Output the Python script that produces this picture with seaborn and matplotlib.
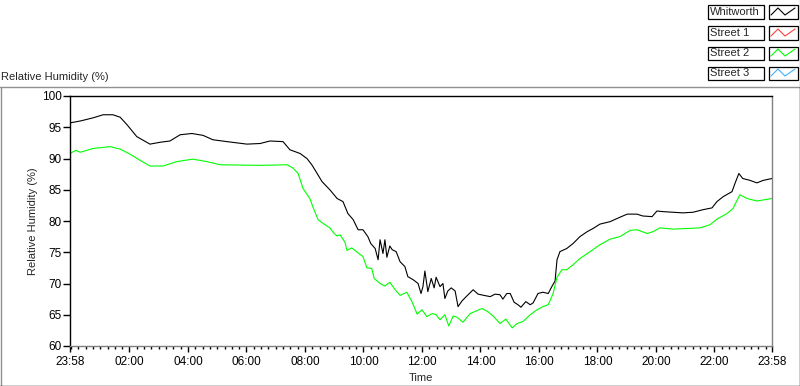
"""
Relative humidity over one day: Whitworth vs Street 2 (LabVIEW style chart)
"""

import numpy as np
import pandas as pd
import matplotlib
matplotlib.use('Agg')
import matplotlib.pyplot as plt
from matplotlib.lines import Line2D
from matplotlib.patches import Rectangle
from matplotlib.ticker import FixedLocator
import seaborn as sns

# minutes elapsed since 23:58 and relative humidity (%)
whitworth_min = [0, 21, 47, 68, 88, 103, 117, 137, 164, 185, 205, 226, 250, 273, 293, 322, 363,
                 390, 410, 437, 451, 472, 486, 496, 507, 517, 533, 548, 560, 570, 581, 591, 601,
                 611, 617, 626, 632, 636, 642, 646, 650, 656, 661, 669, 677, 687, 693, 704, 714,
                 720, 724, 728, 734, 741, 747, 751, 759, 765, 769, 775, 782, 790, 796, 804, 814,
                 827, 837, 849, 862, 872, 882, 888, 896, 903, 911, 919, 925, 935, 944, 950, 960,
                 970, 981, 989, 995, 999, 1005, 1019, 1032, 1046, 1061, 1073, 1087, 1108, 1128,
                 1143, 1163, 1175, 1194, 1204, 1216, 1237, 1257, 1278, 1298, 1317, 1327, 1340,
                 1358, 1364, 1372, 1380, 1395, 1409, 1422, 1440]
whitworth_rh = [95.7, 96.0, 96.5, 97.0, 97.0, 96.6, 95.4, 93.5, 92.3, 92.6, 92.8, 93.8, 94.0,
                93.7, 93.0, 92.7, 92.3, 92.4, 92.8, 92.7, 91.4, 90.8, 90.0, 89.0, 87.6, 86.3,
                85.0, 83.6, 83.1, 81.2, 80.2, 78.6, 78.6, 77.5, 76.4, 75.6, 73.8, 77.0, 74.8,
                77.0, 74.2, 76.0, 75.4, 75.1, 73.5, 72.7, 71.1, 70.6, 70.0, 68.4, 69.5, 72.0,
                68.7, 70.8, 69.3, 71.0, 69.5, 70.0, 67.6, 68.8, 69.3, 68.8, 66.3, 67.2, 68.0,
                69.0, 68.3, 68.1, 67.9, 68.3, 68.2, 67.5, 68.4, 68.4, 67.0, 66.6, 66.2, 67.1,
                66.6, 66.9, 68.4, 68.6, 68.4, 69.6, 70.4, 73.8, 75.1, 75.6, 76.4, 77.5, 78.3,
                78.8, 79.5, 79.9, 80.6, 81.1, 81.1, 80.8, 80.7, 81.6, 81.5, 81.4, 81.3, 81.4,
                81.8, 82.1, 83.1, 83.9, 84.7, 86.0, 87.6, 86.8, 86.5, 86.1, 86.5, 86.8]

street2_min = [0, 12, 21, 47, 82, 103, 123, 144, 164, 191, 219, 252, 281, 308, 390, 445, 457,
               468, 478, 492, 498, 509, 523, 533, 542, 548, 554, 564, 568, 578, 591, 601, 609,
               619, 624, 636, 646, 656, 667, 677, 691, 702, 712, 722, 732, 743, 751, 759, 769,
               777, 786, 794, 806, 821, 833, 845, 857, 868, 882, 894, 907, 917, 929, 944, 958,
               970, 981, 991, 999, 1009, 1019, 1032, 1046, 1067, 1087, 1108, 1128, 1149, 1163,
               1184, 1196, 1210, 1237, 1266, 1292, 1313, 1327, 1348, 1360, 1374, 1389, 1409, 1440]
street2_rh = [90.8, 91.3, 91.0, 91.6, 91.9, 91.5, 90.7, 89.7, 88.8, 88.8, 89.5, 89.9, 89.5,
              89.0, 88.9, 89.0, 88.5, 87.6, 85.2, 83.6, 82.3, 80.2, 79.4, 78.9, 78.0, 77.6,
              77.8, 76.6, 75.3, 75.7, 74.9, 74.3, 72.5, 72.4, 70.8, 70.0, 69.6, 70.2, 69.0,
              68.1, 68.6, 67.0, 65.1, 65.8, 64.7, 65.2, 65.0, 64.2, 65.0, 63.2, 64.8, 64.6,
              63.8, 65.2, 65.6, 66.0, 65.5, 64.8, 63.6, 64.3, 62.9, 63.6, 63.9, 65.0, 65.8,
              66.3, 66.6, 68.4, 71.0, 72.2, 72.2, 73.0, 74.0, 75.1, 76.2, 77.1, 77.5, 78.5,
              78.6, 78.0, 78.3, 78.9, 78.7, 78.8, 78.9, 79.4, 80.3, 81.2, 82.0, 84.2, 83.6,
              83.2, 83.6]

legend_names = ['Whitworth', 'Street 1', 'Street 2', 'Street 3']
legend_colors = ['#000000', '#ff4040', '#00ff00', '#40b0ff']

tick_min = [0, 122, 242, 362, 482, 602, 722, 842, 962, 1082, 1202, 1322, 1440]
tick_labels = ['23:58', '02:00', '04:00', '06:00', '08:00', '10:00', '12:00',
               '14:00', '16:00', '18:00', '20:00', '22:00', '23:58']

df = pd.concat([
    pd.DataFrame({'minute': whitworth_min, 'rh': whitworth_rh, 'site': 'Whitworth'}),
    pd.DataFrame({'minute': street2_min, 'rh': street2_rh, 'site': 'Street 2'}),
])

sns.set_style('white')
plt.rcParams['font.family'] = ['Liberation Sans', 'DejaVu Sans']
plt.rcParams['font.size'] = 8

fig = plt.figure(figsize=(8, 3.86), dpi=100)
W, H = 800, 386


def fx(px):
    return px / W


def fy(py):
    return 1 - py / H


ax = fig.add_axes([fx(70), fy(346), fx(772) - fx(70), fy(96) - fy(346)])

palette = dict(zip(legend_names, legend_colors))
sns.lineplot(data=df, x='minute', y='rh', hue='site', palette=palette, estimator=None,
             sort=False, linewidth=0.8, legend=False, ax=ax)

ax.set_xlim(0, 1440)
ax.set_ylim(60, 100)
ax.set_yticks(range(60, 101, 5))
ax.set_xticks(tick_min)
ax.set_xticklabels(tick_labels)
ax.xaxis.set_minor_locator(FixedLocator(np.arange(2, 1440, 15)))
ax.tick_params(axis='y', which='major', direction='out', length=5, width=1, colors='black',
               labelsize=8.5, left=True, pad=1)
ax.tick_params(axis='x', which='major', direction='out', length=4, width=1, colors='black',
               labelsize=8.5, bottom=True, pad=3)
ax.tick_params(axis='x', which='minor', direction='out', length=2.5, width=1, colors='black',
               bottom=True)
ax.set_xlabel('Time', fontsize=8, labelpad=4)
ax.set_ylabel('Relative Humidity (%)', fontsize=8, labelpad=3)
ax.grid(False)

for side in ['left', 'top']:
    ax.spines[side].set_color('black')
    ax.spines[side].set_linewidth(1)
for side in ['right', 'bottom']:
    ax.spines[side].set_color('#808080')
    ax.spines[side].set_linewidth(1)

# panel frame and title
fig.add_artist(Line2D([0, 1], [fy(86.5), fy(86.5)], color='#909090', lw=1))
fig.add_artist(Line2D([fx(0.5), fx(0.5)], [fy(86.5), 0], color='#909090', lw=1))
fig.add_artist(Line2D([0, 1], [fy(385.5), fy(385.5)], color='black', lw=1))
fig.add_artist(Line2D([fx(799.5), fx(799.5)], [fy(86.5), 0], color='black', lw=1))
fig.text(fx(1), fy(77), 'Relative Humidity (%)', fontsize=8, va='center', ha='left')

# legend at top right
fig.add_artist(Line2D([fx(799.5), fx(799.5)], [1, fy(86.5)], color='#909090', lw=1))
row_tops = [5, 26, 46, 66]
for name, color, top in zip(legend_names, legend_colors, row_tops):
    fig.add_artist(Rectangle((fx(707.5), fy(top + 13.5)), fx(56), fy(0) - fy(13),
                             facecolor='white', edgecolor='black', lw=0.9))
    fig.text(fx(710), fy(top + 7), name, fontsize=8, va='center', ha='left')
    fig.add_artist(Rectangle((fx(768.5), fy(top + 13.5)), fx(29), fy(0) - fy(13),
                             facecolor='white', edgecolor='black', lw=0.9))
    xs = [fx(771), fx(778), fx(785), fx(795)]
    ys = [fy(top + 10), fy(top + 3), fy(top + 10), fy(top + 3)]
    fig.add_artist(Line2D(xs, ys, color=color, lw=0.8))

plt.savefig('out.png', dpi=100)
